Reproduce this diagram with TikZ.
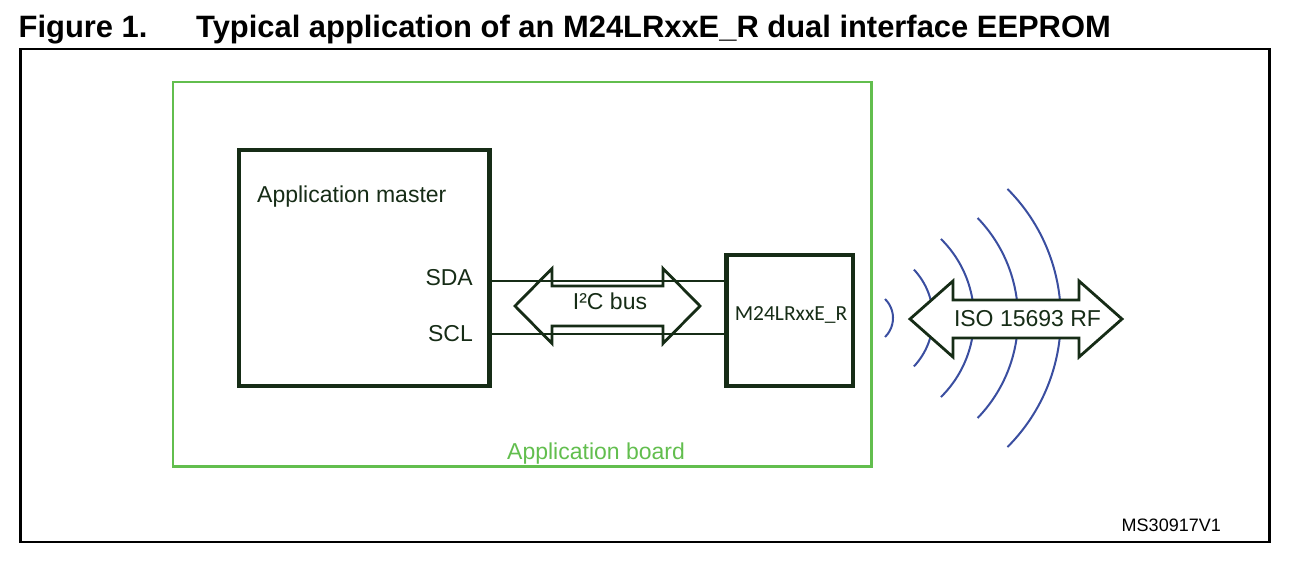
\documentclass[tikz,border=0pt]{standalone}
\usepackage{fontspec}
\setmainfont{Liberation Sans}
\newfontfamily\calfont{Carlito}
\definecolor{darkline}{RGB}{22,44,22}
\definecolor{boardgreen}{RGB}{98,190,78}
\definecolor{rfblue}{RGB}{58,78,160}
\begin{document}
\begin{tikzpicture}[x=1pt,y=-1pt,
  lbl/.style={inner sep=0pt, font=\fontsize{23}{27}\selectfont, text=darkline},
  blockbox/.style={draw=darkline, line width=4.5pt, inner sep=0pt, rectangle},
  wire/.style={draw=darkline, line width=2pt},
  bigarrow/.style={draw=darkline, line width=2.8pt, line join=miter, fill=white},
  wave/.style={draw=rfblue, line width=2pt}]
\useasboundingbox (0,0) rectangle (1292,562);
% title
\node[inner sep=0pt, anchor=base west, font=\fontsize{30.9}{34}\selectfont\bfseries] (fig) at (18.5,37.3) {Figure 1.};
\node[inner sep=0pt, anchor=base west, font=\fontsize{30.9}{34}\selectfont\bfseries] (title) at (196,37.3) {Typical application of an M24LRxxE\_R dual interface EEPROM};
% outer frame
\draw[line width=2.7pt] (20.7,49) rectangle (1269.7,542);
\node[inner sep=0pt, anchor=base east, font=\fontsize{18}{21}\selectfont] (ms) at (1221,531) {MS30917V1};
% application board
\draw[draw=boardgreen, line width=2.5pt] (173,82) rectangle (871.5,466.5);
\node[lbl, anchor=base west, text=boardgreen] (board) at (507,459) {Application board};
% blocks
\node[blockbox, minimum width=250.5pt, minimum height=236pt] (master) at (364.25,268) {};
\node[lbl, anchor=base west] (mastertxt) at (257,202.3) {Application master};
\node[lbl, anchor=base east] (sda) at (473,285.7) {SDA};
\node[lbl, anchor=base east] (scl) at (473,341.7) {SCL};
\node[blockbox, minimum width=126.5pt, minimum height=131pt] (m24) at (789.75,320.5) {};
\node[inner sep=0pt, font=\calfont\fontsize{21.5}{25}\selectfont, text=darkline] (m24txt) at (791,315) {M24LRxxE\_R};
% I2C bus arrow
\draw[bigarrow, fill=none] (515,306) -- (552,268.5) -- (552,286) -- (663,286) -- (663,268.5) -- (700,306) -- (663,343.5) -- (663,326) -- (552,326) -- (552,343.5) -- cycle;
\node[lbl] (i2c) at (610,301.5) {I²C bus};
% bus wires
\draw[wire] (master.east |- 0,281) -- (m24.west |- 0,281);
\draw[wire] (master.east |- 0,334) -- (m24.west |- 0,334);
% RF waves
\draw[wave] (866.4,318) ++(-45.6:26.6) arc[start angle=45.6, end angle=-45.6, radius=26.6pt];
\draw[wave] (862,318) ++(-43:71) arc[start angle=43, end angle=-43, radius=71pt];
\draw[wave] (863,318) ++(-45.4:111) arc[start angle=45.4, end angle=-45.4, radius=111pt];
\draw[wave] (874,318) ++(-44:144) arc[start angle=44, end angle=-44, radius=144pt];
\draw[wave] (878,318) ++(-44.9:182.8) arc[start angle=44.9, end angle=-44.9, radius=182.8pt];
% ISO arrow
\draw[bigarrow] (910,319) -- (953,281) -- (953,300) -- (1079,300) -- (1079,281) -- (1122,319) -- (1079,357) -- (1079,338) -- (953,338) -- (953,357) -- cycle;
\node[lbl] (iso) at (1027.5,318.5) {ISO 15693 RF};
\end{tikzpicture}
\end{document}
